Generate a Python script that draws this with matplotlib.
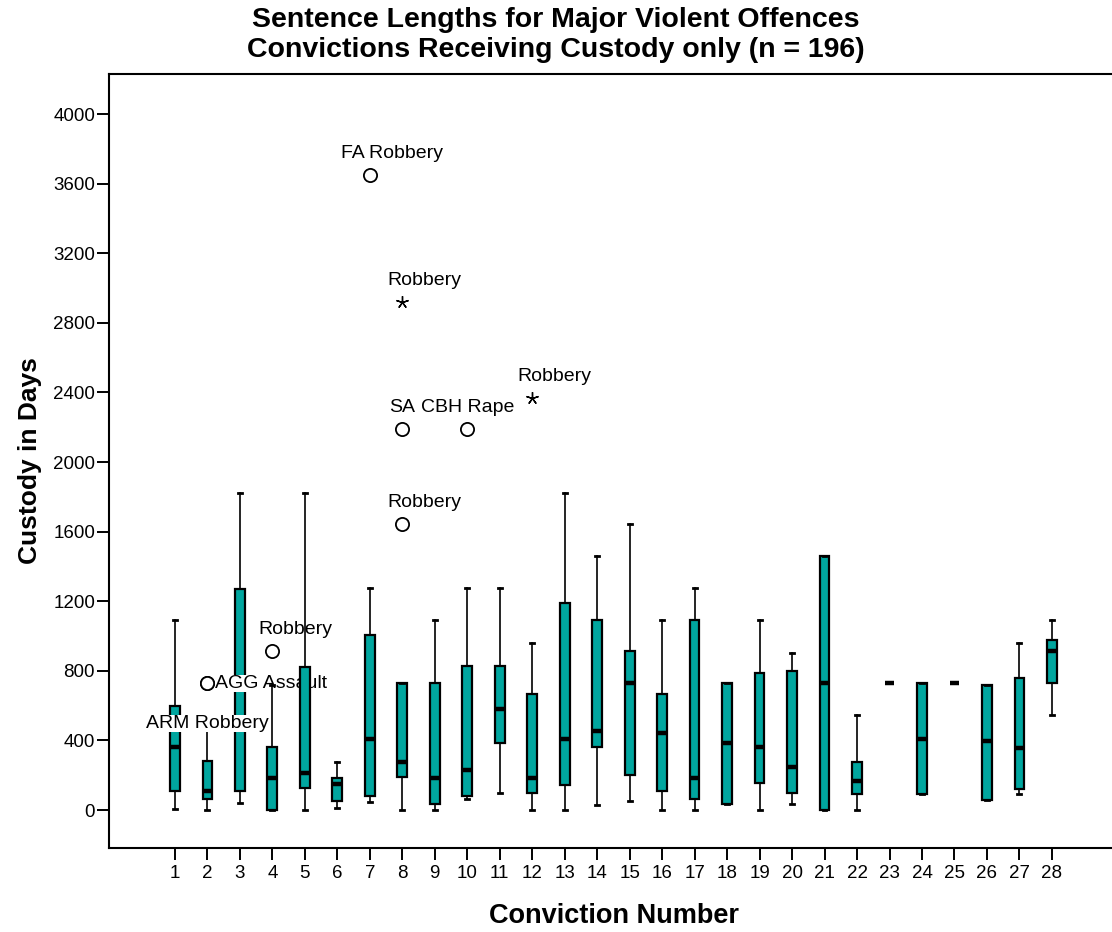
import matplotlib
matplotlib.use("Agg")
import matplotlib.pyplot as plt

# box statistics (days), one entry per conviction number
conviction = list(range(1, 29))
whis_lo = [5, 0, 38, 0, 0, 14, 48, 0, 0, 62, 96, 0, 0, 29, 50, 0, 0, 34, 0, 34,
           0, 0, 730, 90, 730, 60, 90, 548]
q1 = [111, 65, 110, 0, 125, 52, 82, 188, 34, 80, 383, 96, 144, 365, 203, 110, 63, 34, 157, 96,
      0, 90, 730, 90, 730, 60, 120, 730]
median = [365, 110, 730, 183, 213, 152, 410, 274, 183, 228, 580, 183, 410, 456, 730, 445, 183, 386,
          365, 245, 730, 170, 730, 410, 730, 395, 355, 913]
q3 = [600, 280, 1270, 365, 820, 183, 1005, 730, 730, 827, 827, 665, 1190, 1095, 913, 670, 1095,
      730, 790, 800, 1460, 274, 730, 730, 730, 720, 760, 975]
whis_hi = [1095, 465, 1825, 720, 1825, 274, 1278, 730, 1095, 1278, 1278, 960, 1825, 1460, 1645,
           1095, 1278, 730, 1095, 900, 1460, 548, 730, 730, 730, 720, 960, 1095]

# labelled outliers / extremes
out_conv = [2, 2, 4, 7, 8, 8, 8, 10, 12]
out_vals = [730, 730, 913, 3650, 1645, 2190, 2920, 2190, 2370]
out_kind = ['o', 'o', 'o', 'o', 'o', 'o', '*', 'o', '*']
out_labels = ['ARM Robbery', 'AGG Assault', 'Robbery', 'FA Robbery', 'Robbery', 'SA',
              'Robbery', 'CBH Rape', 'Robbery']
# label placement (pixels from marker, horizontal alignment)
out_offsets = [(0, -40, 'center'), (8, 0, 'left'), (23, 22, 'center'), (22, 21, 'center'),
               (22, 21, 'center'), (0, 21, 'center'), (22, 21, 'center'), (0, 21, 'center'),
               (22, 21, 'center')]

title_1 = "Sentence Lengths for Major Violent Offences"
title_2 = "Convictions Receiving Custody only (n = 196)"

TEAL = "#00a69f"
plt.rcParams['font.family'] = ['Liberation Sans', 'DejaVu Sans']

fig = plt.figure(figsize=(11.12, 9.32), dpi=100)
ax = fig.add_axes([0.098, 0.0901, 0.902, 0.8305])

stats = []
for i in range(len(conviction)):
    stats.append(dict(med=median[i], q1=q1[i], q3=q3[i], whislo=whis_lo[i],
                      whishi=whis_hi[i], fliers=[]))

common = dict(widths=0.3, capwidths=0.12, patch_artist=True, showfliers=False,
              boxprops=dict(facecolor=TEAL, edgecolor='black', linewidth=1.6),
              medianprops=dict(color='black', linewidth=3.2, solid_capstyle='butt'),
              whiskerprops=dict(color='black', linewidth=1.2),
              capprops=dict(color='black', linewidth=2.0), manage_ticks=False)
# first three boxes sit under the label text, the rest above it
ax.bxp(stats[:3], positions=conviction[:3], zorder=2, **common)
ax.bxp(stats[3:], positions=conviction[3:], zorder=4, **common)

for c, v, k, lab, (dx, dy, ha) in zip(out_conv, out_vals, out_kind, out_labels, out_offsets):
    if k == 'o':
        ax.plot(c, v, marker='o', markersize=9.5, markerfacecolor='white',
                markeredgecolor='black', markeredgewidth=1.3, zorder=5)
    else:
        ax.plot(c, v, marker=(5, 2, 0), markersize=9, color='black',
                markeredgewidth=1.0, zorder=5)
    ax.annotate(lab, (c, v), xytext=(dx, dy), textcoords='offset pixels',
                ha=ha, va='center', fontsize=14, zorder=3,
                bbox=dict(facecolor='white', edgecolor='none', pad=0))

ax.set_xlim(-1.03, 29.85)
ax.set_ylim(-218, 4230)
ax.set_xticks(conviction)
ax.set_xticklabels([str(c) for c in conviction])
ax.set_yticks(range(0, 4001, 400))
ax.tick_params(axis='both', direction='out', length=8.5, width=1.4, labelsize=13.5)
ax.tick_params(axis='x', pad=4)
ax.tick_params(axis='y', pad=1.5)
for side in ['left', 'top', 'bottom']:
    ax.spines[side].set_linewidth(1.5)
ax.spines['right'].set_visible(False)

fig.text(0.5, 1 - 20 / 932, title_1, ha='center', va='center', fontsize=20.5,
         fontweight='bold')
fig.text(0.5, 1 - 50 / 932, title_2, ha='center', va='center', fontsize=20.5,
         fontweight='bold')
fig.text(0.5525, 1 - 916 / 932, "Conviction Number", ha='center', va='center',
         fontsize=19.5, fontweight='bold')
fig.text(30 / 1112, 1 - 461 / 932, "Custody in Days", ha='center', va='center',
         rotation=90, fontsize=19, fontweight='bold')

fig.savefig("out.png", dpi=100)
